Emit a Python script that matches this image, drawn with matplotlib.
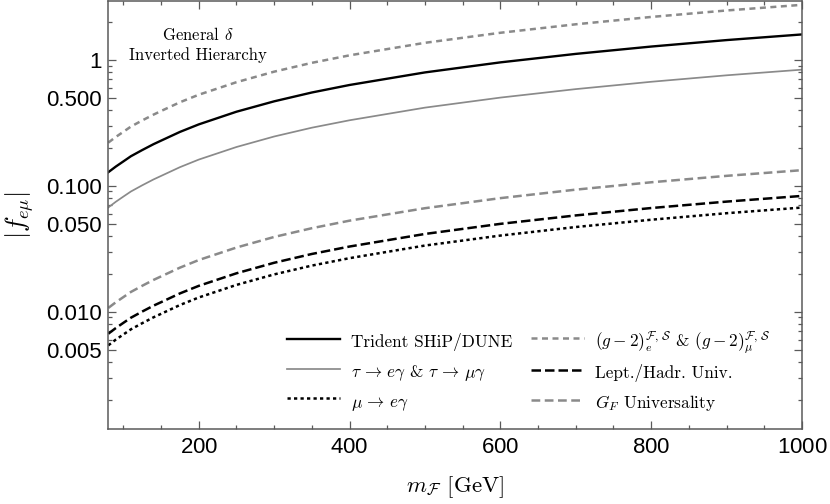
#!/usr/bin/env python3
"""
Limites sur |f_e_mu| en fonction de m_F (General delta, Inverted Hierarchy).
"""
import matplotlib
matplotlib.use("Agg")
import matplotlib.pyplot as plt
from matplotlib.ticker import FixedLocator, FixedFormatter, LogLocator, MultipleLocator, NullFormatter

# masses (GeV)
m_F = [80, 90, 100, 110, 125, 140, 150, 175, 200, 250, 300, 350, 400, 500, 600, 700, 800, 900, 1000]

# limites
trident = [0.128, 0.142, 0.156, 0.1715, 0.192, 0.2138, 0.228, 0.2675, 0.307, 0.387, 0.468, 0.550,
           0.631, 0.794, 0.954, 1.114, 1.274, 1.434, 1.590]
tau_decays = [0.0672, 0.0746, 0.0820, 0.0900, 0.1008, 0.1122, 0.1196, 0.1404, 0.1613, 0.203, 0.246,
              0.289, 0.331, 0.417, 0.501, 0.585, 0.669, 0.753, 0.835]
mu_e_gamma = [0.0054, 0.0060, 0.00659, 0.00724, 0.0081, 0.00902, 0.00961, 0.01129, 0.01296, 0.01631,
              0.01976, 0.02322, 0.0266, 0.0335, 0.0402, 0.0470, 0.0537, 0.0605, 0.0671]
g_minus_2 = [0.220, 0.244, 0.268, 0.295, 0.330, 0.367, 0.392, 0.460, 0.528, 0.664, 0.805, 0.946,
             1.085, 1.364, 1.639, 1.914, 2.189, 2.464, 2.732]
lept_hadr = [0.00668, 0.00741, 0.00815, 0.00895, 0.01002, 0.01116, 0.01189, 0.01396, 0.01603, 0.02017,
             0.02445, 0.02872, 0.0329, 0.0414, 0.0498, 0.0581, 0.0665, 0.0748, 0.0830]
gf_univ = [0.0107, 0.01188, 0.01305, 0.01434, 0.01605, 0.01787, 0.01905, 0.02236, 0.0257, 0.0323,
           0.0392, 0.0460, 0.0528, 0.0663, 0.0797, 0.0931, 0.1065, 0.1198, 0.1329]

y_ticks = [0.005, 0.01, 0.05, 0.1, 0.5, 1]
y_tick_labels = ['0.005', '0.010', '0.050', '0.100', '0.500', '1']
x_ticks = [200, 400, 600, 800, 1000]

plt.rcParams['font.family'] = ['cmr10', 'DejaVu Serif']
plt.rcParams['mathtext.fontset'] = 'cm'
plt.rcParams['axes.formatter.use_mathtext'] = True

GRIS = '#8a8a8a'
CADRE = '#5a5a5a'

fig = plt.figure(figsize=(8.3, 5.04), dpi=100)
ax = fig.add_axes([108.3 / 830, 75 / 504, 693.7 / 830, 428 / 504])

l_trident, = ax.plot(m_F, trident, color='black', lw=1.7)
l_tau, = ax.plot(m_F, tau_decays, color=GRIS, lw=1.25)
l_mu, = ax.plot(m_F, mu_e_gamma, color='black', lw=1.8, dashes=(1.3, 1.3))
l_g2, = ax.plot(m_F, g_minus_2, color=GRIS, lw=1.8, dashes=(2.4, 1.8))
l_lept, = ax.plot(m_F, lept_hadr, color='black', lw=1.8, dashes=(3.8, 1.6))
l_gf, = ax.plot(m_F, gf_univ, color=GRIS, lw=1.8, dashes=(3.5, 1.8))

ax.set_yscale('log')
ax.set_xlim(80, 1000)
ax.set_ylim(0.00117, 2.93)

# graduations
ax.xaxis.set_major_locator(FixedLocator(x_ticks))
ax.xaxis.set_minor_locator(MultipleLocator(50))
ax.yaxis.set_major_locator(FixedLocator(y_ticks))
ax.yaxis.set_major_formatter(FixedFormatter(y_tick_labels))
ax.yaxis.set_minor_locator(LogLocator(base=10, subs=range(1, 10), numticks=20))
ax.yaxis.set_minor_formatter(NullFormatter())

ax.tick_params(which='both', direction='in', top=True, right=True, color=CADRE, width=0.9,
               labelsize=16, labelfontfamily='Liberation Sans', labelcolor='black')
ax.tick_params(which='major', length=5.5)
ax.tick_params(which='minor', length=3)
ax.tick_params(axis='x', pad=5.5)
ax.tick_params(axis='y', pad=4.5)

for s in ax.spines.values():
    s.set_color(CADRE)
    s.set_linewidth(1.1)

ax.set_ylabel(r'$|f_{e\mu}|$', fontsize=19)
ax.yaxis.set_label_coords(-0.128, 0.5)
ax.yaxis.label.set_va('center')
ax.set_xlabel(r'$m_{\mathcal{F}}$ [GeV]', fontsize=16.5)
ax.xaxis.set_label_coords(0.5, -0.135)
ax.xaxis.label.set_va('center')

ax.text(0.129, 0.899, 'General $\\delta$\nInverted Hierarchy', transform=ax.transAxes,
        ha='center', va='center', multialignment='center', fontsize=12, linespacing=1.35)

# legende en deux colonnes
opts = dict(frameon=False, fontsize=12.4, borderpad=0, borderaxespad=0, handlelength=3.1,
            handletextpad=0.6, handleheight=1.7, labelspacing=0.38, loc='center left')
leg1 = ax.legend([l_trident, l_tau, l_mu],
                 ['Trident SHiP/DUNE',
                  r'$\tau \,\rightarrow\, e\gamma$ & $\tau \,\rightarrow\, \mu\gamma$',
                  r'$\mu \,\rightarrow\, e\gamma$'],
                 bbox_to_anchor=(0.2576, 0.134), **opts)
ax.add_artist(leg1)
ax.legend([l_g2, l_lept, l_gf],
          [r'$(g-2)_e^{\mathcal{F},\,\mathcal{S}}$ & $(g-2)_\mu^{\mathcal{F},\,\mathcal{S}}$',
           'Lept./Hadr. Univ.',
           r'$G_F$ Universality'],
          bbox_to_anchor=(0.6093, 0.134), **opts)

fig.savefig('out.png', dpi=100)
